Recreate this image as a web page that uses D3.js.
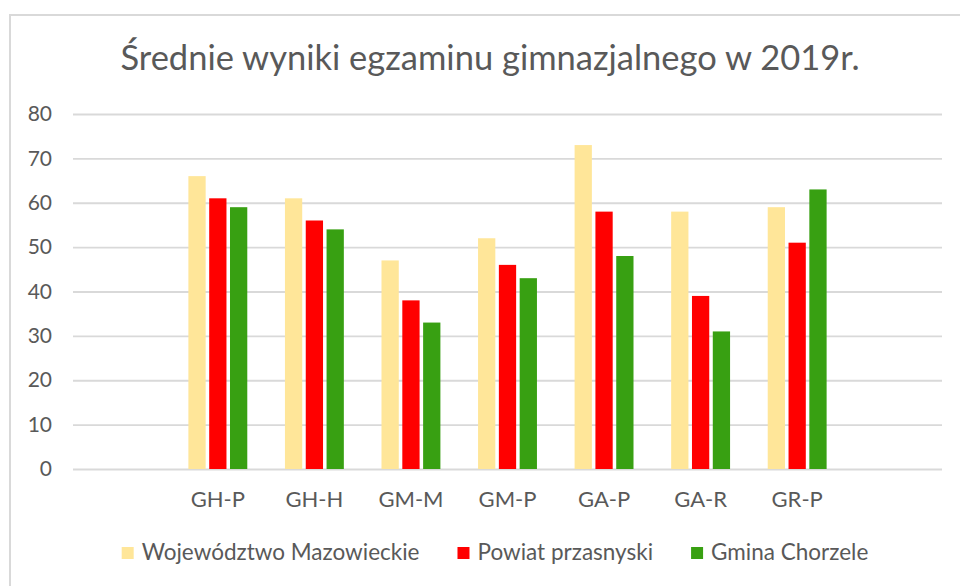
<!DOCTYPE html>
<html>
<head>
<meta charset="utf-8">
<script src="https://cdn.jsdelivr.net/npm/d3@7"></script>
<style>
    body { margin: 0; background: #fff; }
    text { font-family: Lato, "Open Sans", sans-serif; fill: #595959; }
</style>
</head>
<body>
<script>
const categories = ["GH-P", "GH-H", "GM-M", "GM-P", "GA-P", "GA-R", "GR-P"]
const seriesNames = ["Województwo Mazowieckie", "Powiat przasnyski", "Gmina Chorzele"]
const mazowieckie = [66, 61, 47, 52, 73, 58, 59]
const przasnyski = [61, 56, 38, 46, 58, 39, 51]
const chorzele = [59, 54, 33, 43, 48, 31, 63]
const yTicks = [0, 10, 20, 30, 40, 50, 60, 70, 80]
const colors = ["#ffe699", "#ff0000", "#38a012"]

const width = 960
const height = 586
const plotLeft = 73, plotRight = 942, plotTop = 114, plotBottom = 469

const svg = d3.select("body")
    .append("svg")
    .attr("width", width)
    .attr("height", height)

// chart frame
svg.append("path")
    .attr("d", `M10,${height} V15 H${width}`)
    .attr("fill", "none")
    .attr("stroke", "#d9d9d9")
    .attr("stroke-width", 2)

svg.append("text")
    .attr("x", 490)
    .attr("y", 70)
    .attr("text-anchor", "middle")
    .style("font-size", "34.5px")
    .text("Średnie wyniki egzaminu gimnazjalnego w 2019r.")

const y = d3.scaleLinear()
    .domain([0, 80])
    .range([plotBottom, plotTop])

// one empty slot on each side of the groups, like the source sheet
const p = 0.39
const x = d3.scaleBand()
    .domain(categories)
    .range([plotLeft, plotRight])
    .paddingInner(p)
    .paddingOuter(1 + p / 2)

const x1 = d3.scaleBand()
    .domain(d3.range(seriesNames.length))
    .range([0, x.bandwidth()])
    .paddingInner(0.17)

const yAxis = svg.append("g")
    .attr("transform", `translate(${plotLeft},0)`)
    .call(d3.axisLeft(y).tickValues(yTicks).tickSize(plotLeft - plotRight).tickPadding(21))
yAxis.select(".domain").remove()
yAxis.selectAll("line")
    .attr("stroke", "#d9d9d9")
    .attr("stroke-width", 1.8)
yAxis.selectAll("text")
    .style("font-size", "21px")
    .attr("fill", "#595959")

const table = categories.map((c, i) => ({
    cat: c,
    vals: [mazowieckie[i], przasnyski[i], chorzele[i]]
}))

svg.append("g")
    .selectAll("g")
    .data(table)
    .join("g")
    .attr("transform", d => `translate(${x(d.cat)},0)`)
    .selectAll("rect")
    .data(d => d.vals)
    .join("rect")
    .attr("x", (v, j) => x1(j))
    .attr("width", x1.bandwidth())
    .attr("y", v => y(v))
    .attr("height", v => y(0) - y(v))
    .attr("fill", (v, j) => colors[j])

const xAxis = svg.append("g")
    .attr("transform", `translate(0,${plotBottom})`)
    .call(d3.axisBottom(x).tickSize(0).tickPadding(22))
xAxis.select(".domain").remove()
xAxis.selectAll("text")
    .style("font-size", "22px")
    .attr("fill", "#595959")

// legend, centred under the chart
const legend = svg.append("g")
const items = legend.selectAll("g")
    .data(seriesNames)
    .join("g")
items.append("rect")
    .attr("y", 547)
    .attr("width", 12)
    .attr("height", 12)
    .attr("fill", (d, i) => colors[i])
items.append("text")
    .attr("x", 20)
    .attr("y", 560)
    .style("font-size", "22.5px")
    .text(d => d)

let pos = 0
items.each(function () {
    d3.select(this).attr("transform", `translate(${pos},0)`)
    pos += 20 + d3.select(this).select("text").node().getComputedTextLength() + 38
})
pos -= 38
legend.attr("transform", `translate(${495 - pos / 2},0)`)
</script>
</body>
</html>
